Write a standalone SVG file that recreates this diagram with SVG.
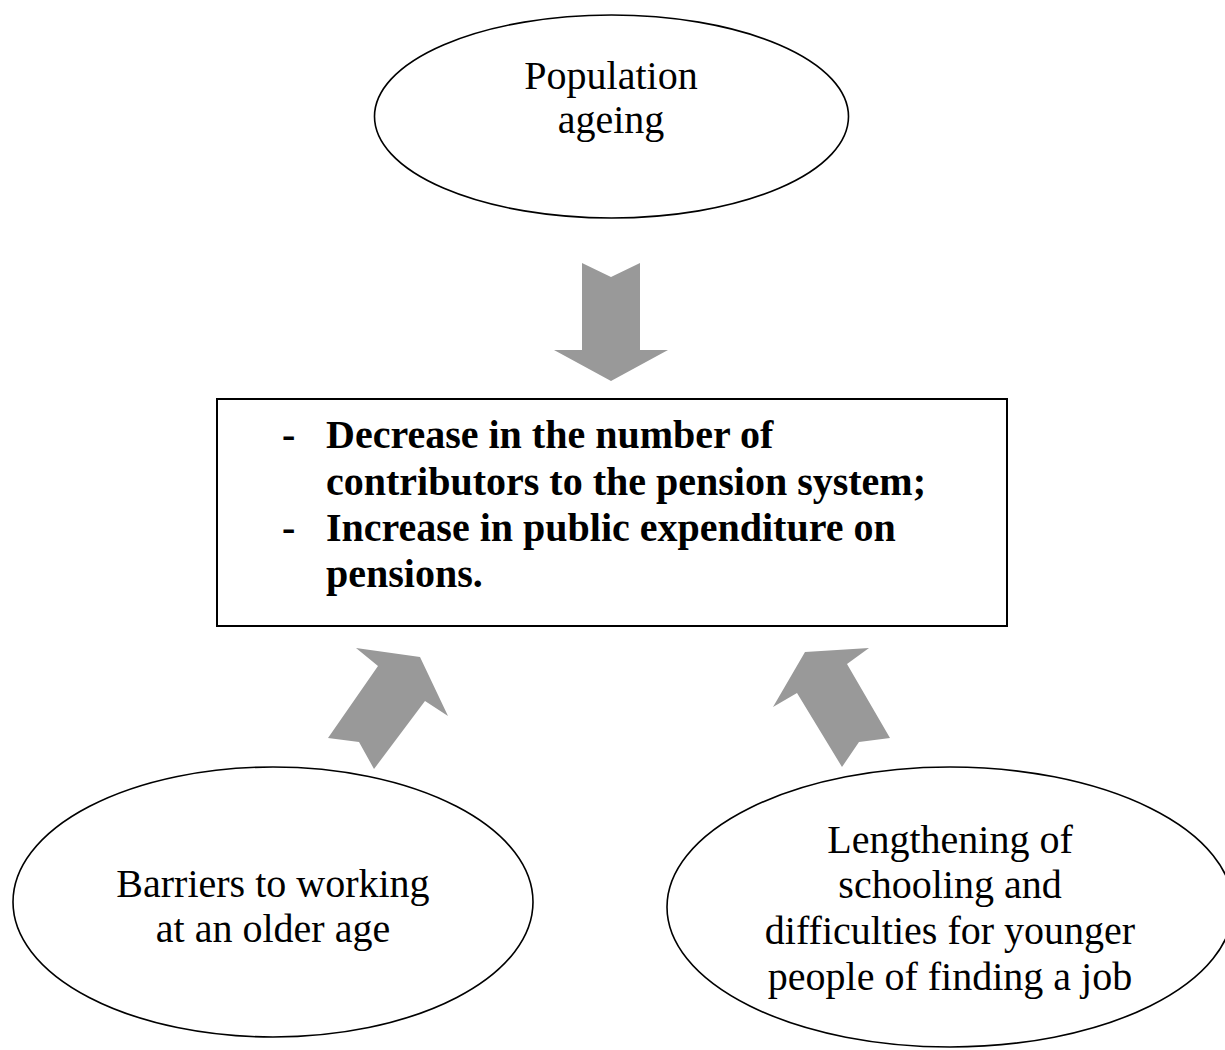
<svg xmlns="http://www.w3.org/2000/svg" width="1225" height="1050" viewBox="0 0 1225 1050">
<style>
.node{fill:#fff;stroke:#000;stroke-width:1.6}
.lbl{font-family:"Liberation Serif","Times New Roman",serif;font-size:40px;fill:#000;text-anchor:middle}
.bold{font-family:"Liberation Serif","Times New Roman",serif;font-size:40px;font-weight:bold;fill:#000}
.arrow{fill:#999999;stroke:none}
</style>
<rect width="1225" height="1050" fill="#fff"/>
<g id="connectors">
<polygon class="arrow" points="582,263 611,277 640,263 640,350 668,350 611,381 554,350 582,350"/>
<polygon class="arrow" points="356,648 420,657 448,716 425,701 374,769 359,742 328,738 378,666"/>
<polygon class="arrow" points="805,652 869,648 847,664 890,738 859,742 842,767 797,693 773,707"/>
</g>
<g id="population-ageing">
<ellipse class="node" cx="611.5" cy="116.5" rx="237" ry="101.5"/>
<text class="lbl" x="611" y="89">Population</text>
<text class="lbl" x="611" y="133">ageing</text>
</g>
<g id="effects">
<rect x="217" y="399" width="790" height="227" fill="#fff" stroke="#000" stroke-width="2"/>
<text class="bold" x="282" y="448">-</text>
<text class="bold" x="326" y="448">Decrease in the number of</text>
<text class="bold" x="326" y="495">contributors to the pension system;</text>
<text class="bold" x="282" y="541">-</text>
<text class="bold" x="326" y="541">Increase in public expenditure on</text>
<text class="bold" x="326" y="587">pensions.</text>
</g>
<g id="barriers">
<ellipse class="node" cx="273" cy="902" rx="260" ry="135"/>
<text class="lbl" x="273" y="897">Barriers to working</text>
<text class="lbl" x="273" y="942">at an older age</text>
</g>
<g id="lengthening">
<ellipse class="node" cx="950" cy="907" rx="283" ry="140"/>
<text class="lbl" x="950" y="853">Lengthening of</text>
<text class="lbl" x="950" y="898">schooling and</text>
<text class="lbl" x="950" y="944">difficulties for younger</text>
<text class="lbl" x="950" y="990">people of finding a job</text>
</g>
</svg>
